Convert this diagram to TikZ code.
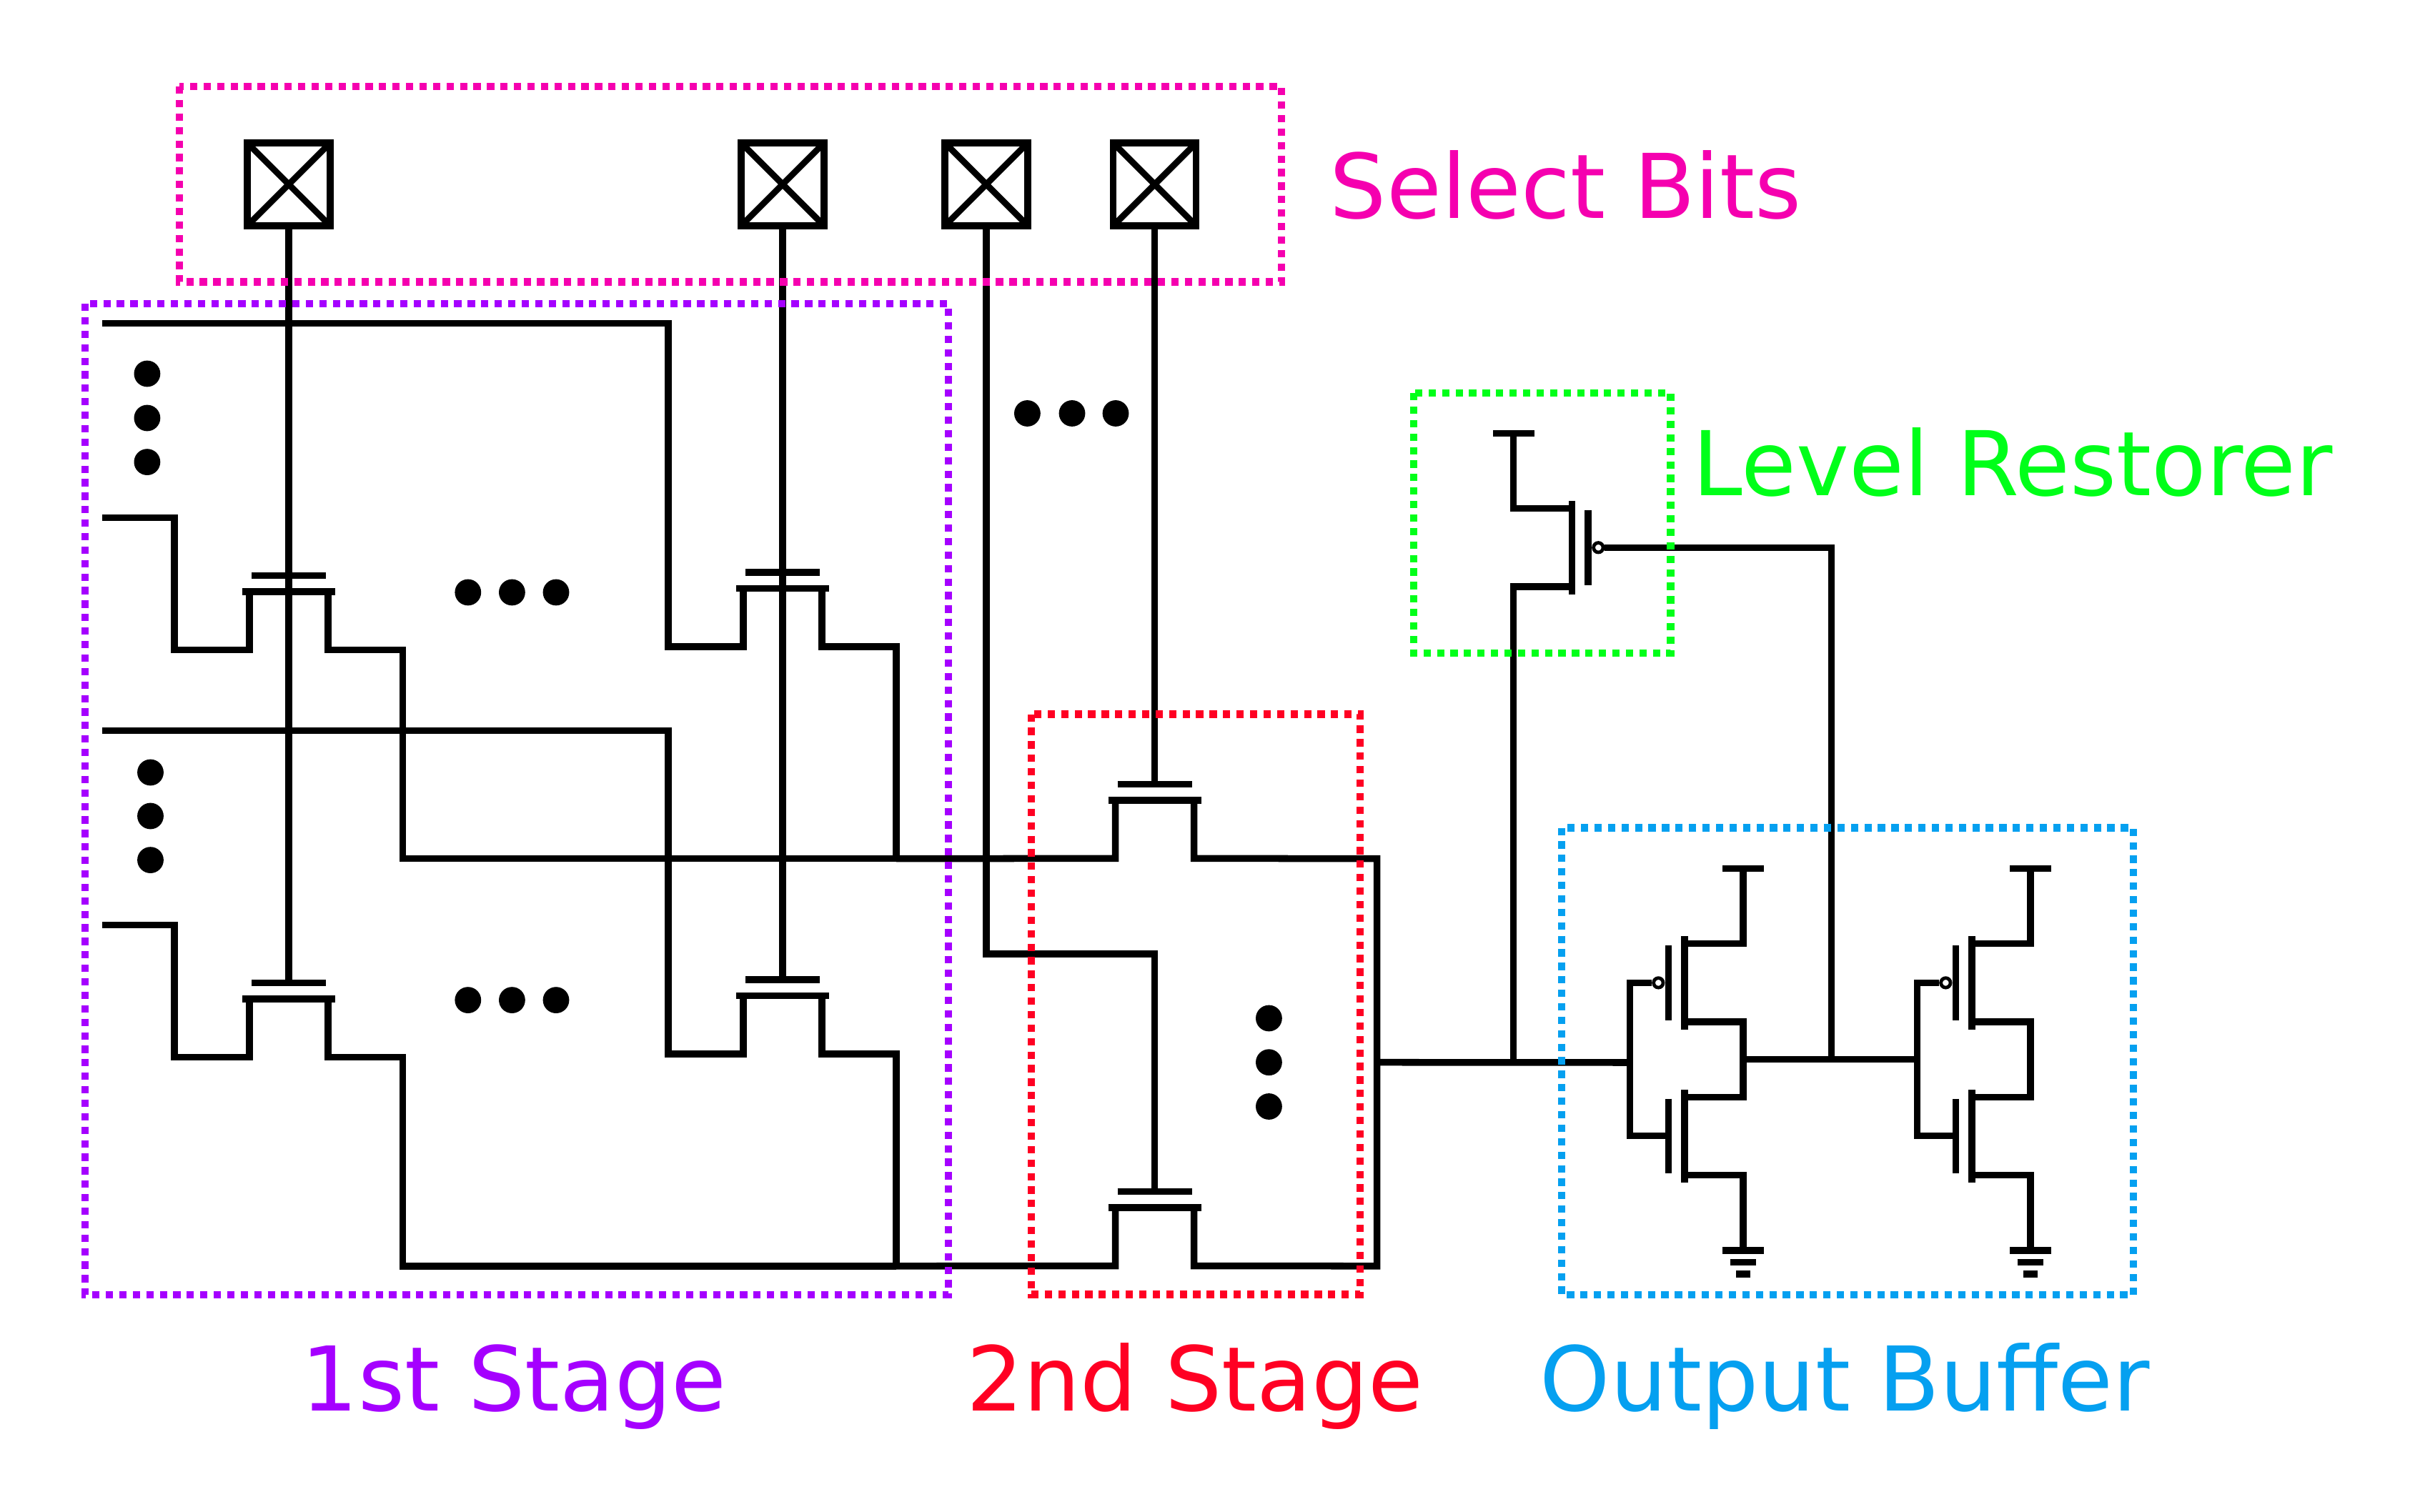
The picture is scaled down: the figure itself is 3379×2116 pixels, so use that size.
\documentclass[tikz,border=0pt]{standalone}
\usepackage{fontspec}
\setmainfont{DejaVu Sans}
\definecolor{cpink}{RGB}{245,0,175}
\definecolor{cpurple}{RGB}{165,0,255}
\definecolor{cred}{RGB}{255,0,35}
\definecolor{cblue}{RGB}{5,160,240}
\definecolor{cgreen}{RGB}{0,255,25}
\tikzset{
  wire/.style={line width=2.38pt},
  dotbox/.style={line width=2.6pt,dash pattern=on 2.55pt off 2.17pt},
  bigdot/.style={circle,fill=black,inner sep=0pt,minimum size=9.2pt},
  bubble/.style={circle,draw=black,fill=white,line width=1.2pt,inner sep=0pt,minimum size=3.35pt},
  padbox/.style={rectangle,draw=black,line width=2.4pt,inner sep=0pt,minimum size=29pt,
    path picture={\draw[line width=2.2pt] (path picture bounding box.north west)--(path picture bounding box.south east)
      (path picture bounding box.north east)--(path picture bounding box.south west);}},
  lab/.style={anchor=base west,inner sep=0pt,font=\fontsize{31.25pt}{36pt}\selectfont},
}
\newcommand{\passfet}[3]{%
  \coordinate (#1g) at (#2,#3);
  \coordinate (#1lt) at ({#2-55},{#3+22.5});
  \coordinate (#1rt) at ({#2+55},{#3+22.5});
  \coordinate (#1l) at ({#2-55},{#3+104});
  \coordinate (#1r) at ({#2+55},{#3+104});
  \draw[wire] ({#2-52},#3)--({#2+52},#3);
  \draw[wire] ({#2-65},{#3+22.5})--({#2+65},{#3+22.5});
}
\newcommand{\inverter}[2]{%
  \begin{scope}[shift={(#2,0)}]
    \draw[wire] (2410,1215.6)--(2467.6,1215.6);
    \draw[wire] (2439,1215.6)--(2439,1320.5)--(2357,1320.5);
    \draw[wire] (2357,1310)--(2357,1441);
    \draw[wire] (2334.3,1323)--(2334.3,1428);
    \draw[wire] (2357,1430)--(2439,1430)--(2439,1535.3)--(2357,1535.3);
    \draw[wire] (2357,1525)--(2357,1655);
    \draw[wire] (2334.3,1537.5)--(2334.3,1642.4);
    \draw[wire] (2357,1644.6)--(2439,1644.6)--(2439,1750);
    \draw[wire] (2410,1750)--(2467.6,1750);
    \draw[wire] (2420.5,1766.5)--(2456.8,1766.5);
    \draw[wire] (2429,1783)--(2449,1783);
    \draw[wire] (2334.3,1589.7)--(2280.6,1589.7)--(2280.6,1375.4)--(2311,1375.4);
    \node[bubble] (#1b) at (2320.3,1375.4) {};
    \coordinate (#1in) at (2280.6,1487);
    \coordinate (#1out) at (2439,1482.6);
  \end{scope}
}
\begin{document}
\begin{tikzpicture}[x=0.25pt,y=-0.25pt]
\useasboundingbox (0,0) rectangle (3379,2116);
\fill[white] (0,0) rectangle (3379,2116);

% pads
\node[padbox] (p1) at (404,258) {};
\node[padbox] (p2) at (1095,258) {};
\node[padbox] (p3) at (1380,258) {};
\node[padbox] (p4) at (1615.6,258) {};

% pass transistors
\passfet{aa}{404}{805.6}
\passfet{bb}{1095}{801}
\passfet{ac}{404}{1375.6}
\passfet{bc}{1095}{1371}
\passfet{ca}{1615.6}{1097.3}
\passfet{cb}{1615.6}{1667.5}

% select lines
\draw[wire] (p1.south)--(acg);
\draw[wire] (p2.south)--(bcg);
\draw[wire] (p3.south)--(1380,1335)--(1615.6,1335)--(cbg);
\draw[wire] (p4.south)--(cag);

% first stage
\coordinate (ina) at (143.4,452.6);
\coordinate (inb) at (143.4,724.7);
\coordinate (inc) at (143.4,1022.6);
\coordinate (ind) at (143.4,1294.7);
\coordinate (busa) at (1254,1201.7);
\coordinate (busb) at (1254,1771.8);
\draw[wire] (ina)--(935,452.6)--(935,905)--(bbl)--(bblt);
\draw[wire] (bbrt)--(bbr)--(1254,905)--(busa);
\draw[wire] (inb)--(244,724.7)--(244,909.6)--(aal)--(aalt);
\draw[wire] (aart)--(aar)--(563.6,909.6)--(563.6,1201.7)--(busa);
\draw[wire] (inc)--(935,1022.6)--(935,1475)--(bcl)--(bclt);
\draw[wire] (bcrt)--(bcr)--(1254,1475)--(busb);
\draw[wire] (ind)--(244,1294.7)--(244,1479.6)--(acl)--(aclt);
\draw[wire] (acrt)--(acr)--(563.6,1479.6)--(563.6,1771.8)--(busb);

% second stage
\draw[wire] (busa)--(cal)--(calt);
\draw[wire] (busb)--(cbl)--(cblt);
\draw[wire] (cart)--(car)--(1926.6,1201.7)--(1926.6,1771.8)--(cbr)--(cbrt);

% output buffer
\inverter{ia}{0}
\inverter{ib}{402}
\draw[wire] (1926.6,1486.7)--(iain);
\draw[wire] (iaout)--(2683,1482.6);

% level restorer
\node[bubble] (lvb) at (2236.3,766.3) {};
\draw[wire] (2089,606.7)--(2146.7,606.7);
\draw[wire] (2117.6,606.7)--(2117.6,711.7)--(2199.4,711.7);
\draw[wire] (2199.4,701)--(2199.4,832);
\draw[wire] (2222,714)--(2222,819);
\draw[wire] (2199.4,821)--(2117.6,821)--(2117.6,1486.7);
\draw[wire] (lvb.east)--(2562.4,766.3)--(2562.4,1482.6);

% ellipsis dots
\foreach \n/\x/\y in {a/205.9/523,b/205.9/585,c/205.9/646.6,
  d/210.5/1081,e/210.5/1142,f/210.5/1203.6,
  g/654.8/829,h/716.4/829,i/778/829,
  j/654.8/1399.6,k/716.4/1399.6,l/778/1399.6,
  m/1437.4/578.5,n/1500/578.5,o/1561/578.5,
  p/1775.4/1425,q/1775.4/1486.7,r/1775.4/1548.5}
  {\node[bigdot] (dot\n) at (\x,\y) {};}

% dotted frames
\draw[dotbox,cpink] (251,121) rectangle (1793,394.6);
\draw[dotbox,cpurple] (119,425) rectangle (1327,1812);
\draw[dotbox,cred] (1443,999.6) rectangle (1903,1811.6);
\draw[dotbox,cblue] (2185,1158.5) rectangle (2985,1812);
\draw[dotbox,cgreen] (1978,550) rectangle (2337.5,914);

% labels
\node[lab,text=cpink] (selbits) at (1860,306) {Select Bits};
\node[lab,text=cgreen] (lvlrest) at (2368,694) {Level Restorer};
\node[lab,text=cpurple] (stage1) at (421,1974) {1st Stage};
\node[lab,text=cred] (stage2) at (1352,1974) {2nd Stage};
\node[lab,text=cblue] (outbuf) at (2154,1974) {Output Buffer};
\end{tikzpicture}
\end{document}
